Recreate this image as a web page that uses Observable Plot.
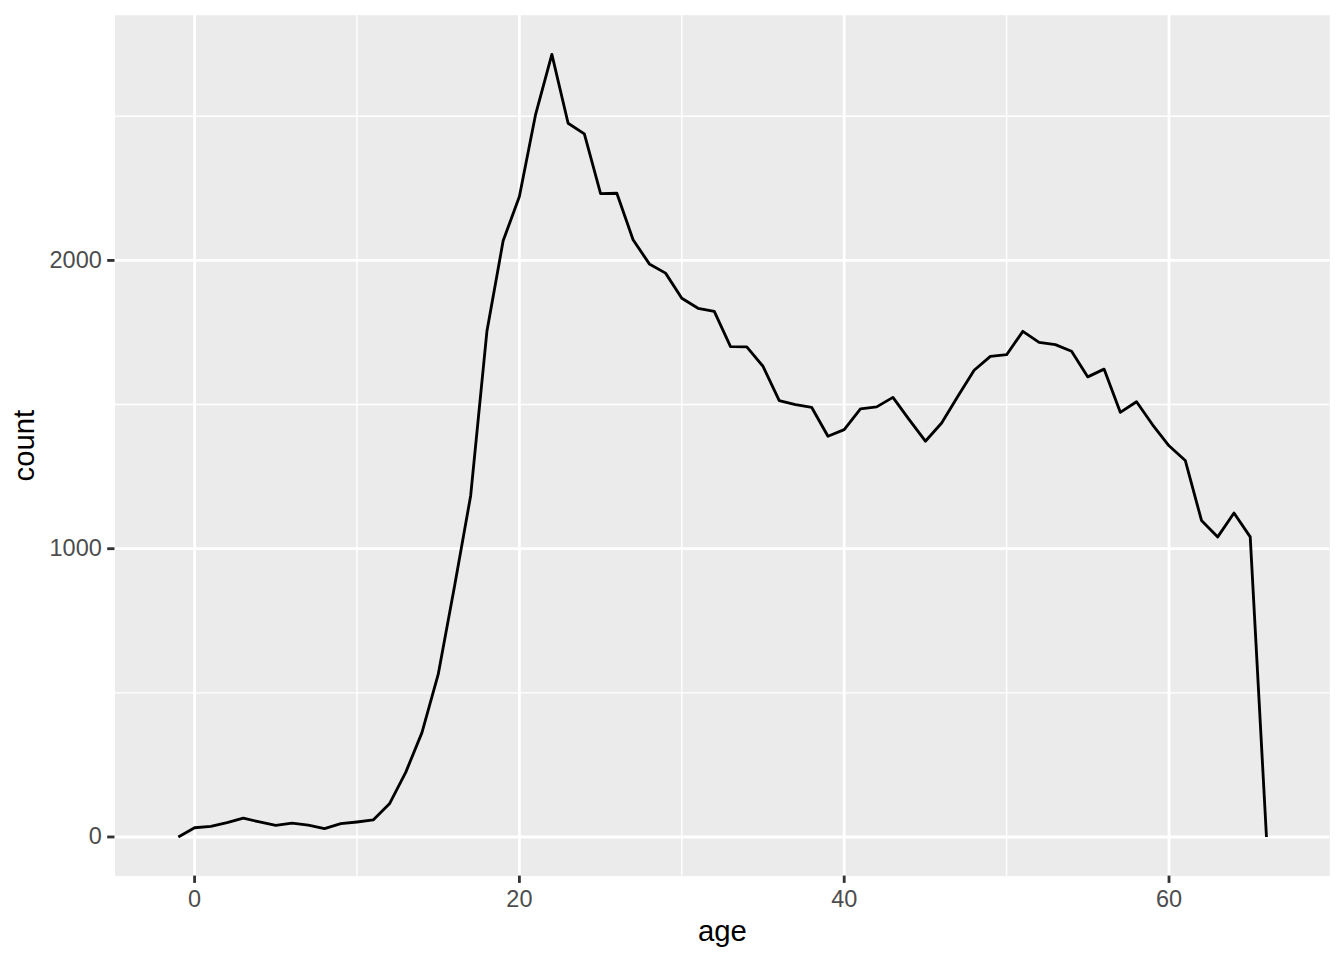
<!DOCTYPE html>
<html>
<head>
<meta charset="utf-8">
<script src="https://cdn.jsdelivr.net/npm/d3@7"></script>
<script src="https://cdn.jsdelivr.net/npm/@observablehq/plot@0.6"></script>
<style>
  html, body { margin: 0; padding: 0; background: #ffffff; }
  #chart { width: 1344px; height: 960px; }
</style>
</head>
<body>
<div id="chart"></div>
<script>
const ages = [-1, 0, 1, 2, 3, 4, 5, 6, 7, 8, 9, 10, 11, 12, 13, 14, 15, 16, 17, 18, 19,
  20, 21, 22, 23, 24, 25, 26, 27, 28, 29, 30, 31, 32, 33, 34, 35, 36, 37, 38, 39,
  40, 41, 42, 43, 44, 45, 46, 47, 48, 49, 50, 51, 52, 53, 54, 55, 56, 57, 58, 59,
  60, 61, 62, 63, 64, 65, 66];
const counts = [0, 32, 37, 50, 65, 52, 40, 48, 41, 29, 46, 52, 59, 115, 224, 362, 564, 868, 1184, 1754, 2068,
  2222, 2507, 2715, 2476, 2439, 2232, 2233, 2072, 1988, 1956, 1869, 1834, 1823, 1701, 1700, 1633, 1514, 1500, 1490, 1390,
  1413, 1485, 1492, 1525, 1448, 1373, 1436, 1529, 1619, 1667, 1673, 1754, 1716, 1708, 1685, 1596, 1623, 1473, 1510, 1429,
  1357, 1306, 1098, 1041, 1124, 1041, 0];
const xMajorTicks = [0, 20, 40, 60];
const xMinorTicks = [10, 30, 50];
const yMajorTicks = [0, 1000, 2000];
const yMinorTicks = [500, 1500, 2500];
const xTitle = "age";
const yTitle = "count";

const data = ages.map((a, i) => ({age: a, count: counts[i]}));

const font = "'Liberation Sans', Arial, Helvetica, sans-serif";

const chart = Plot.plot({
  width: 1344,
  height: 960,
  marginLeft: 114.5,
  marginRight: 14.7,
  marginTop: 14.7,
  marginBottom: 84.4,
  style: {background: "#ffffff", fontFamily: font},
  x: {domain: [-4.9, 69.9]},
  y: {domain: [-135.75, 2850.75]},
  marks: [
    Plot.frame({fill: "#EBEBEB", stroke: "none"}),
    Plot.ruleX(xMinorTicks, {stroke: "#ffffff", strokeWidth: 1.42}),
    Plot.ruleY(yMinorTicks, {stroke: "#ffffff", strokeWidth: 1.42}),
    Plot.ruleX(xMajorTicks, {stroke: "#ffffff", strokeWidth: 2.84}),
    Plot.ruleY(yMajorTicks, {stroke: "#ffffff", strokeWidth: 2.84}),
    Plot.line(data, {x: "age", y: "count", stroke: "#000000", strokeWidth: 2.84, strokeLinejoin: "round", strokeLinecap: "butt"}),
    Plot.axisX({ticks: xMajorTicks, tickSize: 7.3, tickPadding: 7, fontSize: 23.5, stroke: "#333333", fill: "#4D4D4D", strokeWidth: 2.84, label: null, tickFormat: d => String(d)}),
    Plot.axisY({ticks: yMajorTicks, tickSize: 7.3, tickPadding: 5.9, fontSize: 23.5, stroke: "#333333", fill: "#4D4D4D", strokeWidth: 2.84, label: null, tickFormat: d => String(d)}),
    Plot.text([xTitle], {frameAnchor: "bottom", textAnchor: "middle", lineAnchor: "bottom", dy: 64.4, fontSize: 29.3, fill: "#000000", text: d => d}),
    Plot.text([yTitle], {frameAnchor: "left", textAnchor: "middle", lineAnchor: "bottom", rotate: -90, dx: -81.2, fontSize: 29.3, fill: "#000000", text: d => d})
  ]
});
document.getElementById("chart").appendChild(chart);
</script>
</body>
</html>
